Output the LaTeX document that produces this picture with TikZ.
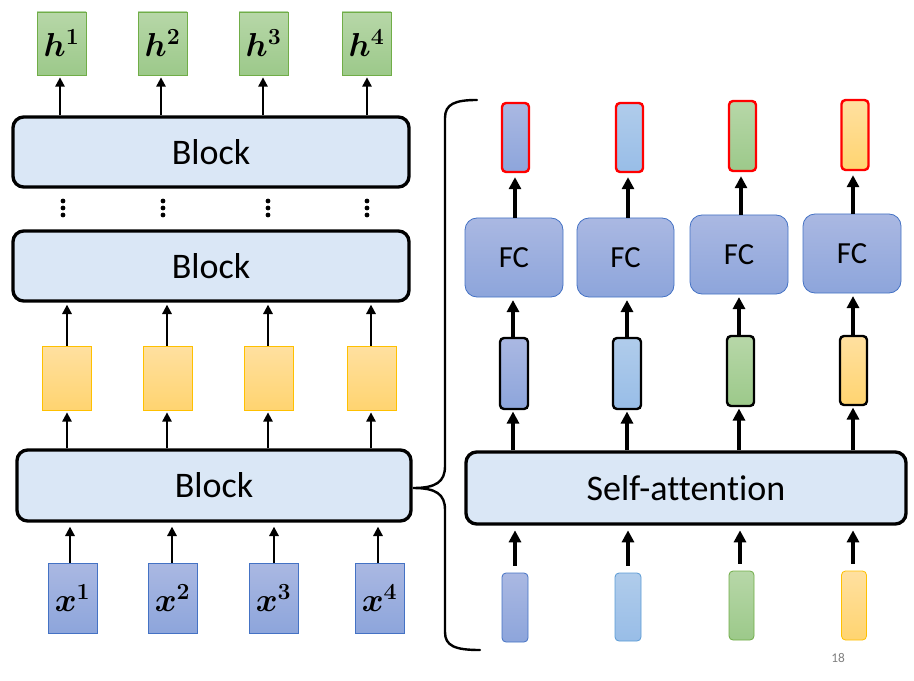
\documentclass[tikz,border=0pt]{standalone}
\usepackage{fontspec}
\usepackage{amsmath}
\usepackage{bm}
\setmainfont{Carlito}[Ligatures={NoCommon,NoContextual}]
\usetikzlibrary{arrows.meta}
\definecolor{blkfill}{HTML}{DAE7F6}
\definecolor{bluetop}{HTML}{AAB8E2}
\definecolor{bluebot}{HTML}{8DA5DB}
\definecolor{blueedge}{HTML}{4472C4}
\definecolor{lbtop}{HTML}{B0CCEB}
\definecolor{lbbot}{HTML}{98BDE7}
\definecolor{lbedge}{HTML}{5B9BD5}
\definecolor{grtop}{HTML}{B7D7A8}
\definecolor{grbot}{HTML}{9CC98A}
\definecolor{gredge}{HTML}{70AD47}
\definecolor{yetop}{HTML}{FFE0A0}
\definecolor{yebot}{HTML}{FFD470}
\definecolor{yeedge}{HTML}{FFC000}
\tikzset{
  px/.style={x=0.75pt,y=-0.75pt},
  blockbox/.style={draw=black, line width=2.5pt, rounded corners=8pt, fill=blkfill, inner sep=0pt, font=\fontsize{27}{30}\selectfont},
  vec/.style={inner sep=0pt, line width=0.6pt},
  bluevec/.style={vec, draw=blueedge, top color=bluetop, bottom color=bluebot},
  lbvec/.style={vec, draw=lbedge, top color=lbtop, bottom color=lbbot},
  grvec/.style={vec, draw=gredge, top color=grtop, bottom color=grbot},
  yevec/.style={vec, draw=yeedge, top color=yetop, bottom color=yebot},
  mathlbl/.style={font=\fontsize{25}{27}\selectfont},
  redb/.style={draw=red, line width=1.8pt, rounded corners=3pt},
  blkb/.style={draw=black, line width=1.8pt, rounded corners=3pt},
  fcbox/.style={bluevec, rounded corners=9pt, font=\fontsize{23}{25}\selectfont},
  arrL/.style={line width=1.5pt, -{Triangle[length=7pt,width=7pt]}},
  arrR/.style={line width=2.4pt, -{Triangle[length=9pt,width=9pt]}},
}
\begin{document}
\begin{tikzpicture}[px]
\useasboundingbox (0,0) rectangle (914,681);
% ---------- left column ----------
\foreach \i/\cx in {1/61.5,2/162.5,3/263.5,4/366.5}{
  \node[grvec, minimum width=36.75pt, minimum height=47.25pt, mathlbl] (h\i) at (\cx,43.5) {$\bm{h}^{\bm{\i}}$};
}
\node[blockbox, minimum width=297pt, minimum height=52.5pt] (blk1) at (211,152) {Block};
\node[blockbox, minimum width=297pt, minimum height=52.5pt] (blk2) at (211,266) {Block};
\foreach \i/\cx in {1/66.5,2/167.5,3/268.5,4/371.5}{
  \node[yevec, minimum width=36.75pt, minimum height=48pt] (y\i) at (\cx,378) {};
}
\node[blockbox, minimum width=295.5pt, minimum height=53.25pt] (blk3) at (214,485.5) {Block};
\foreach \i/\cx in {1/72.5,2/172.5,3/273.5,4/379.5}{
  \node[bluevec, minimum width=36.75pt, minimum height=52.5pt, mathlbl] (x\i) at (\cx,598) {$\bm{x}^{\bm{\i}}$};
}
% arrows left
\foreach \i/\ax in {1/60,2/161,3/263,4/367}{
  \draw[arrL, shorten >=1.5pt] (\ax,0 |- blk1.north) -- (\ax,0 |- h\i.south);
}
\foreach \i/\ax in {1/67,2/167,3/268,4/371}{
  \draw[arrL, shorten >=1.5pt] (\ax,0 |- y\i.north) -- (\ax,0 |- blk2.south);
  \draw[arrL, shorten >=1.5pt] (\ax,0 |- blk3.north) -- (\ax,0 |- y\i.south);
}
\foreach \i/\ax in {1/70,2/172,3/274,4/378}{
  \draw[arrL, shorten >=3pt] (\ax,0 |- x\i.north) -- (\ax,0 |- blk3.south);
}
% vertical dots
\foreach \dx in {63,163,268,367}{
  \foreach \dy in {201,208,215}{
    \fill (\dx,\dy) circle (1.8pt);
  }
}
% ---------- brace ----------
\coordinate (btip) at (413,488);
\draw[line width=1.8pt, line cap=round]
  (477,100) .. controls (455,100) and (445,104) .. (445,118)
  -- (445,466) .. controls (445,482) and (436,488) .. (btip)
  .. controls (436,488) and (445,494) .. (445,510)
  -- (445,632) .. controls (445,646) and (455,650) .. (480,650);
% ---------- right column ----------
\node[redb, top color=bluetop, bottom color=bluebot, minimum width=20.25pt, minimum height=51.75pt, inner sep=0pt] (o1) at (515.5,137.5) {};
\node[redb, top color=lbtop, bottom color=lbbot, minimum width=20.25pt, minimum height=51.75pt, inner sep=0pt] (o2) at (629.5,137.5) {};
\node[redb, top color=grtop, bottom color=grbot, minimum width=20.25pt, minimum height=52.5pt, inner sep=0pt] (o3) at (742.5,136) {};
\node[redb, top color=yetop, bottom color=yebot, minimum width=20.25pt, minimum height=52.5pt, inner sep=0pt] (o4) at (855,135) {};

\node[fcbox, minimum width=73.5pt, minimum height=59.25pt] (fc1) at (514,257.5) {FC};
\node[fcbox, minimum width=72.75pt, minimum height=59.25pt] (fc2) at (625.5,257.5) {FC};
\node[fcbox, minimum width=73.5pt, minimum height=59.25pt] (fc3) at (739,254.5) {FC};
\node[fcbox, minimum width=73.5pt, minimum height=59.25pt] (fc4) at (852,253.5) {FC};

\node[blkb, top color=bluetop, bottom color=bluebot, minimum width=21pt, minimum height=53.25pt, inner sep=0pt] (m1) at (514,373.5) {};
\node[blkb, top color=lbtop, bottom color=lbbot, minimum width=21pt, minimum height=53.25pt, inner sep=0pt] (m2) at (627,373.5) {};
\node[blkb, top color=grtop, bottom color=grbot, minimum width=20.25pt, minimum height=52.5pt, inner sep=0pt] (m3) at (740.5,371) {};
\node[blkb, top color=yetop, bottom color=yebot, minimum width=20.25pt, minimum height=51.75pt, inner sep=0pt] (m4) at (853.5,370.5) {};

\node[blockbox, minimum width=330pt, minimum height=54pt] (sa) at (686,488) {Self-attention};

\node[bluevec, rounded corners=3pt, minimum width=19.5pt, minimum height=51.75pt] (b1) at (515,607.5) {};
\node[lbvec, rounded corners=3pt, minimum width=19.5pt, minimum height=51pt] (b2) at (628,607) {};
\node[grvec, rounded corners=3pt, minimum width=18.75pt, minimum height=51.75pt] (b3) at (741.5,605.5) {};
\node[yevec, rounded corners=3pt, minimum width=18.75pt, minimum height=51.75pt] (b4) at (854,605.5) {};

% arrows right
\foreach \i/\ax in {1/515,2/628,3/741,4/853}{
  \draw[arrR, shorten >=3pt] (\ax,0 |- fc\i.north) -- (\ax,0 |- o\i.south);
}
\foreach \i/\ax in {1/513,2/627,3/739,4/853}{
  \draw[arrR, shorten >=2pt] (\ax,0 |- m\i.north) -- (\ax,0 |- fc\i.south);
  \draw[arrR, shorten >=1pt] (\ax,0 |- sa.north) -- (\ax,0 |- m\i.south);
}
\foreach \i/\ax in {1/515,2/628,3/740,4/853}{
  \draw[arrR, shorten <=5pt, shorten >=3.5pt] (\ax,0 |- b\i.north) -- (\ax,0 |- sa.south);
}
% page number
\node[text=gray, font=\fontsize{10}{12}\selectfont] (pg) at (838,658) {18};
\end{tikzpicture}
\end{document}
